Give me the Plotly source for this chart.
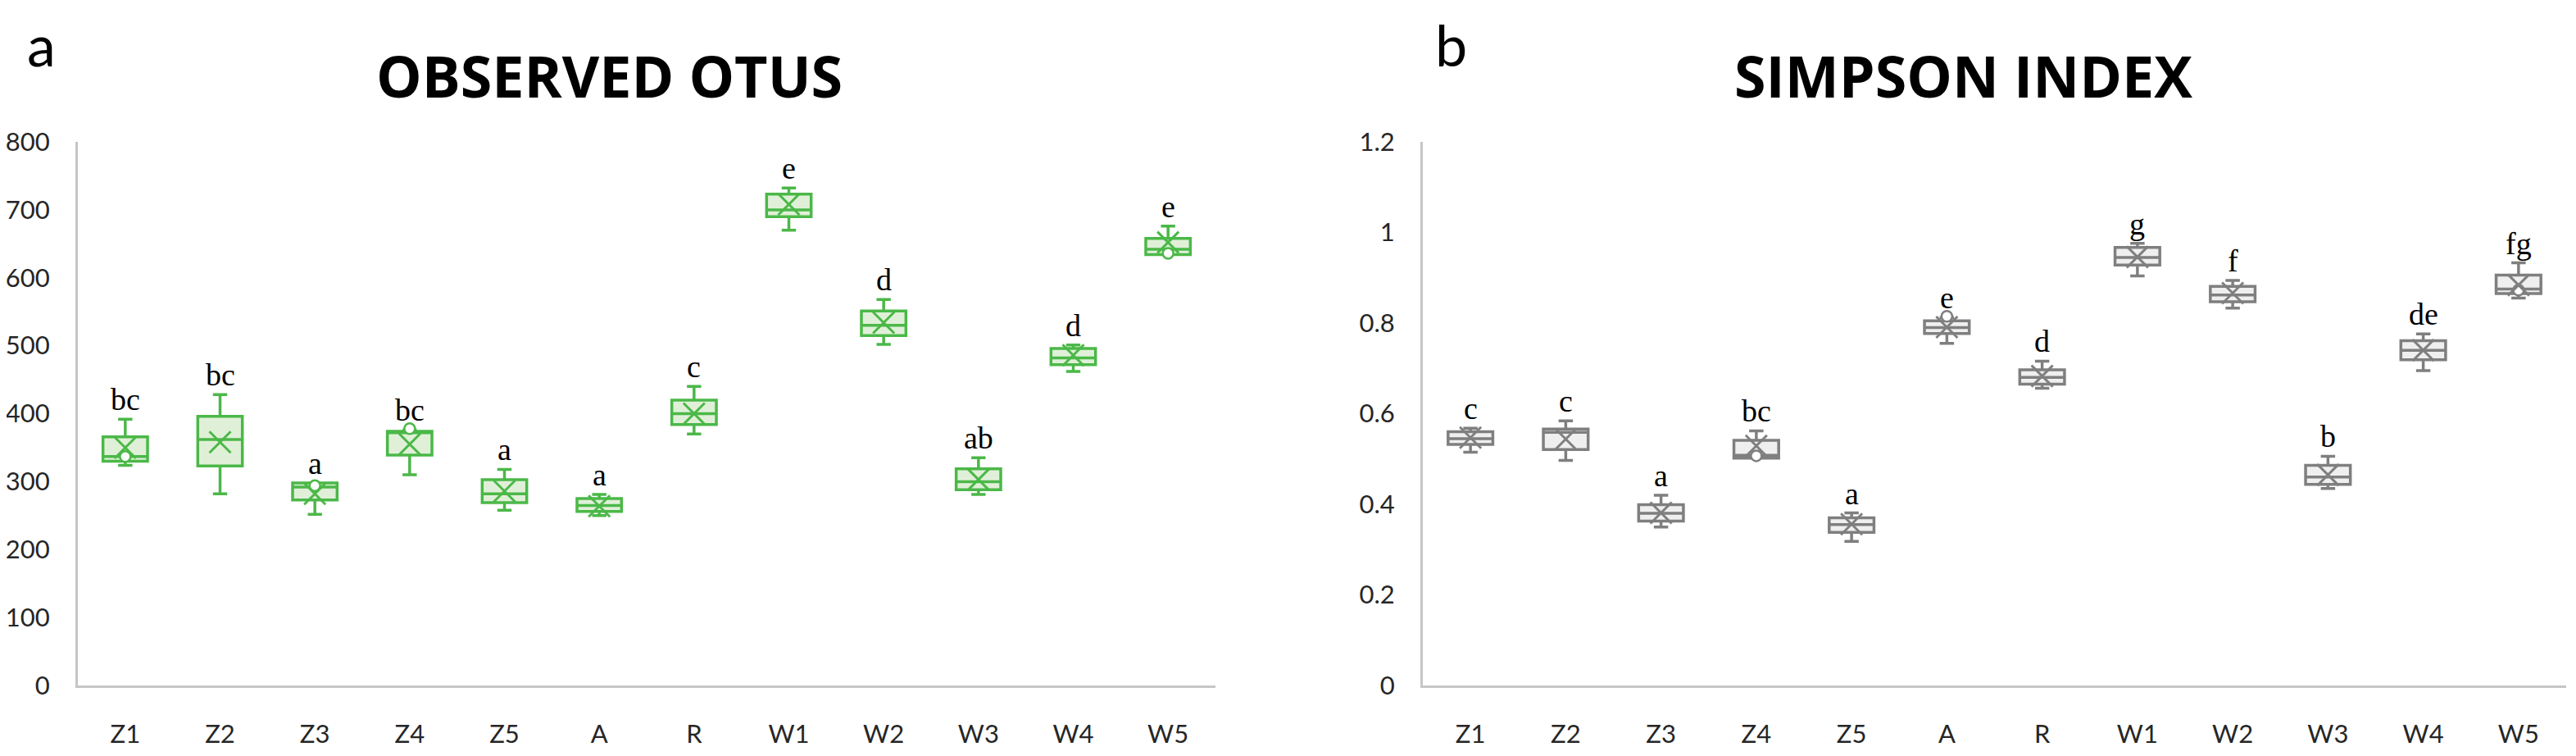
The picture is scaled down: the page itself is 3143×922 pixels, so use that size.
import plotly.graph_objs as go

groups = ['Z1', 'Z2', 'Z3', 'Z4', 'Z5', 'A', 'R', 'W1', 'W2', 'W3', 'W4', 'W5']

# observed OTUs (panel a)
otus_upper = [392, 428, 298, 376, 318, 281, 440, 732, 568, 335, 501, 676]
otus_q3 = [366, 396, 298, 374, 303, 275, 420, 723, 551, 319, 496, 658]
otus_median = [337, 362, 292, 372, 282, 265, 400, 700, 530, 300, 482, 642]
otus_q1 = [330, 323, 273, 339, 269, 256, 384, 690, 515, 288, 472, 634]
otus_lower = [324, 282, 252, 310, 258, 250, 370, 670, 502, 281, 462, 634]
otus_mean = [350, 358, 282, 355, 286, 264, 400, 708, 534, 303, 486, 652]
otus_letters = ['bc', 'bc', 'a', 'bc', 'a', 'a', 'c', 'e', 'd', 'ab', 'd', 'e']
otus_points_x = ['Z1', 'Z3', 'Z4', 'W5']
otus_points_y = [337, 294, 378, 636]
otus_ticks = [0, 100, 200, 300, 400, 500, 600, 700, 800]

# simpson index (panel b)
simpson_upper = [0.568, 0.584, 0.420, 0.562, 0.381, 0.812, 0.716, 0.976, 0.894, 0.506, 0.776, 0.933]
simpson_q3 = [0.560, 0.566, 0.399, 0.541, 0.370, 0.805, 0.697, 0.967, 0.881, 0.486, 0.761, 0.906]
simpson_median = [0.545, 0.559, 0.380, 0.508, 0.355, 0.790, 0.680, 0.945, 0.862, 0.460, 0.740, 0.875]
simpson_q1 = [0.532, 0.521, 0.363, 0.502, 0.338, 0.777, 0.665, 0.928, 0.847, 0.444, 0.719, 0.865]
simpson_lower = [0.515, 0.497, 0.350, 0.502, 0.318, 0.755, 0.656, 0.904, 0.833, 0.435, 0.695, 0.855]
simpson_mean = [0.547, 0.544, 0.381, 0.529, 0.356, 0.791, 0.683, 0.946, 0.866, 0.465, 0.740, 0.884]
simpson_letters = ['c', 'c', 'a', 'bc', 'a', 'e', 'd', 'g', 'f', 'b', 'de', 'fg']
simpson_points_x = ['Z4', 'A', 'W5']
simpson_points_y = [0.507, 0.815, 0.873]
simpson_ticks = [0, 0.2, 0.4, 0.6, 0.8, 1, 1.2]
simpson_tick_text = ['0', '0.2', '0.4', '0.6', '0.8', '1', '1.2']

W, H = 3127, 906
TOP, BOTTOM = 165, 78
GREEN, GREEN_FILL = '#4bb848', '#e0f0d8'
GREY, GREY_FILL = '#7f7f7f', '#efefef'
AXIS_COLOR = '#c6c6c6'
TICK_FONT = dict(family='Lato, Open Sans, sans-serif', size=31, color='#262626')


def box_traces(xaxis, yaxis, color, fill, q1, median, q3, lower, upper, mean, px, py):
    box = go.Box(x=groups, q1=q1, median=median, q3=q3, lowerfence=lower, upperfence=upper,
                 boxpoints=False, width=0.47, whiskerwidth=0.32, fillcolor=fill,
                 line=dict(color=color, width=3.5), xaxis=xaxis, yaxis=yaxis, hoverinfo='skip')
    points = go.Scatter(x=px, y=py, mode='markers', xaxis=xaxis, yaxis=yaxis, hoverinfo='skip',
                        marker=dict(symbol='circle', size=13, color='white', line=dict(color=color, width=2.5)))
    means = go.Scatter(x=groups, y=mean, mode='markers', xaxis=xaxis, yaxis=yaxis, hoverinfo='skip',
                       marker=dict(symbol='x-thin', size=26, color=color, line=dict(color=color, width=3)))
    return [box, points, means]


def letter_annotations(xref, yref, upper, letters):
    return [dict(x=g, y=u, xref=xref, yref=yref, text=t, showarrow=False, yanchor='bottom', yshift=1,
                 font=dict(family='Liberation Serif, Times New Roman, serif', size=38, color='black'))
            for g, u, t in zip(groups, upper, letters)]


data = box_traces('x', 'y', GREEN, GREEN_FILL, otus_q1, otus_median, otus_q3, otus_lower, otus_upper,
                  otus_mean, otus_points_x, otus_points_y)
data += box_traces('x2', 'y2', GREY, GREY_FILL, simpson_q1, simpson_median, simpson_q3, simpson_lower,
                   simpson_upper, simpson_mean, simpson_points_x, simpson_points_y)

x_common = dict(type='category', range=[-0.5, 11.5], showline=True, linecolor=AXIS_COLOR, linewidth=3,
                ticks='', showgrid=False, zeroline=False, tickfont=TICK_FONT, ticklabelstandoff=30,
                fixedrange=True)
y_common = dict(showline=True, linecolor=AXIS_COLOR, linewidth=3, ticks='', showgrid=False, zeroline=False,
                tickfont=TICK_FONT, ticklabelstandoff=25, fixedrange=True)

plot_h = H - TOP - BOTTOM
paper_top = 1 + TOP / plot_h

annotations = letter_annotations('x', 'y', otus_upper, otus_letters)
annotations += letter_annotations('x2', 'y2', simpson_upper, simpson_letters)
title_font = dict(family='Open Sans, sans-serif', size=70, color='black', weight='bold')
panel_font = dict(family='Lato, Open Sans, sans-serif', size=70, color='black')
annotations += [
    dict(x=735 / W, y=1.122, xref='paper', yref='paper', text='OBSERVED OTUS', showarrow=False,
         font=title_font, xanchor='center', yanchor='middle'),
    dict(x=2387 / W, y=1.122, xref='paper', yref='paper', text='SIMPSON INDEX', showarrow=False,
         font=title_font, xanchor='center', yanchor='middle'),
    dict(x=42 / W, y=paper_top, xref='paper', yref='paper', text='a', showarrow=False,
         font=panel_font, xanchor='center', yanchor='top', yshift=-2),
    dict(x=1762 / W, y=paper_top, xref='paper', yref='paper', text='b', showarrow=False,
         font=panel_font, xanchor='center', yanchor='top', yshift=-2),
]

layout = dict(
    width=W, height=H, showlegend=False, paper_bgcolor='white', plot_bgcolor='white',
    margin=dict(l=0, r=0, t=TOP, b=BOTTOM, autoexpand=False),
    xaxis=dict(domain=[87 / W, 1475 / W], anchor='y', **x_common),
    yaxis=dict(domain=[0, 1], anchor='x', range=[0, 800], tickvals=otus_ticks, **y_common),
    xaxis2=dict(domain=[1728 / W, 3123 / W], anchor='y2', **x_common),
    yaxis2=dict(domain=[0, 1], anchor='x2', range=[0, 1.2], tickvals=simpson_ticks,
                ticktext=simpson_tick_text, **y_common),
    annotations=annotations,
)

fig = go.Figure(data=data, layout=layout)
fig.write_html("out.html")
